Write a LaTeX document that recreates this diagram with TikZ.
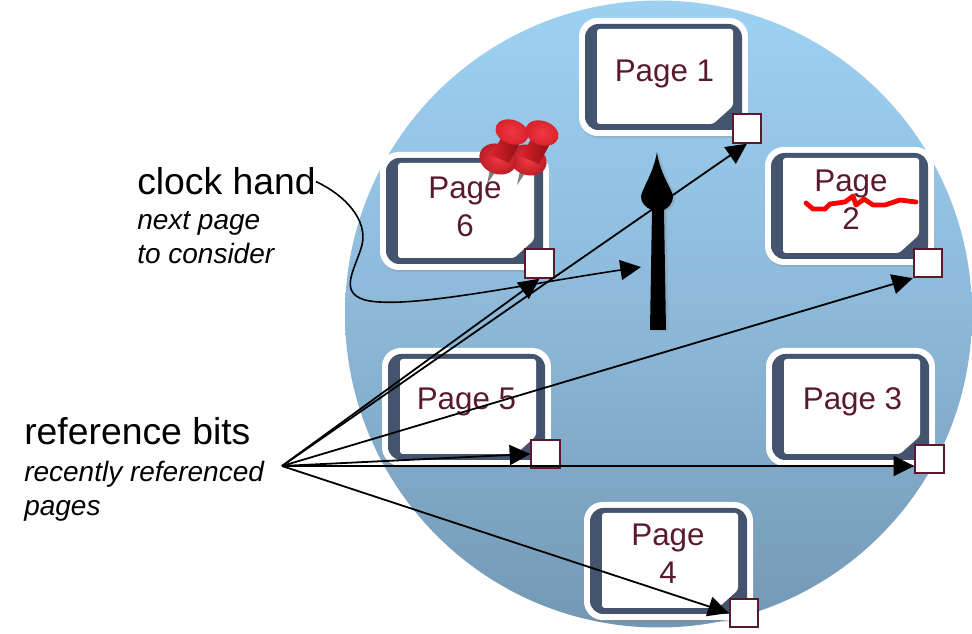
\documentclass[tikz,border=0pt]{standalone}
\usepackage{fontspec}
\setmainfont{Liberation Sans}
\usetikzlibrary{positioning}
\usetikzlibrary{arrows.meta}
\usetikzlibrary{shadows}
\definecolor{pagetext}{HTML}{5A1A2C}
\definecolor{carddark}{HTML}{44546F}
\definecolor{sky}{HTML}{9DD1F2}
\definecolor{skymid}{HTML}{8DB9D9}
\definecolor{skylow}{HTML}{7398B4}
\definecolor{pinred}{HTML}{D8202A}
\definecolor{pinlight}{HTML}{F03840}
\definecolor{pindark}{HTML}{8E1015}
\tikzset{
 pagelabel/.style={text=pagetext,font=\fontsize{23.5}{28.5}\selectfont,align=center,inner sep=0pt},
 bitbox/.style={draw=pagetext,fill=white,line width=1.3pt,minimum size=21.5pt,inner sep=0pt},
 biglabel/.style={anchor=base west,inner sep=0pt,font=\fontsize{28}{33}\selectfont},
 smalllabel/.style={anchor=base west,inner sep=0pt,font=\itshape\fontsize{21}{25}\selectfont},
 refarrow/.style={line width=1.35pt,-{Triangle[length=15.5pt,width=15pt]}},
}
\begin{document}
\begin{tikzpicture}[x=0.75pt,y=-0.75pt]
 \useasboundingbox (0,0) rectangle (972,634);
 \shade[top color=sky,bottom color=skylow,middle color=skymid] (658.5,314) circle [radius=313.5];
 % cards, outer corner given
 \foreach \cx/\cy in {579/18,380/152,765/147,382/348,766/348,584/502}{
  \begin{scope}[shift={(\cx,\cy)}]
   \fill[white,rounded corners=14pt,drop shadow={shadow xshift=0.5pt,shadow yshift=-1.5pt,opacity=0.25}] (0,0) rectangle (169,118);
   \fill[carddark,rounded corners=10pt] (6,6) rectangle (163,112);
   \fill[white,rounded corners=2pt] (18,11)--(154,11)--(154,88)--(134,106)--(18,106)--cycle;
  \end{scope}
 }
 \node[pagelabel] (page1) at (664.5,74) {Page 1};
 \node[pagelabel] (page2) at (851,199.5) {Page\\2};
 \node[pagelabel] (page3) at (852.5,402) {Page 3};
 \node[pagelabel] (page4) at (668,553.5) {Page\\4};
 \node[pagelabel] (page5) at (466.5,402) {Page 5};
 \node[pagelabel] (page6) at (465,207) {Page\\6};
 % scribble on page 2
 \draw[red,line width=3.6pt,line join=round,line cap=round] (806,203)--(813,209)--(825,209)--(830,204)--(845,202)--(853,196)--(856,205)--(864,199)--(873,205)--(885,205)--(900,200)--(916,202);
 % pins on page 6
 \foreach \px/\py in {30/1,0/0}{
  \begin{scope}[shift={(\px,\py)}]
   \fill[gray] (491,165)--(498,168)--(487,184)--cycle;
   \shade[inner color=pinlight,outer color=pinred!85!black,rotate around={-20:(498,159)}] (498,159) circle [x radius=19,y radius=15];
   \shade[left color=pinred,right color=pindark] (491,155)--(503,135)--(521,141)--(509,163)--cycle;
   \shade[inner color=pinlight,outer color=pinred,rotate around={-20:(512,132)}] (512,132) circle [x radius=17,y radius=12];
  \end{scope}
 }
 % the hand
 \fill[drop shadow={shadow xshift=2pt,shadow yshift=-1pt,opacity=0.25}] (650,330)--(652,210) .. controls (646,208) and (641,203) .. (641,197) .. controls (641,190) and (653,175) .. (657,152) .. controls (660,175) and (673,190) .. (673,197) .. controls (673,203) and (668,208) .. (664,210)--(666,330)--cycle;
 \node[bitbox] (bit1) at (747,128.5) {};
 \node[bitbox] (bit2) at (928,263) {};
 \node[bitbox] (bit3) at (929.5,459) {};
 \node[bitbox] (bit4) at (744,613) {};
 \node[bitbox] (bit5) at (545.5,454) {};
 \node[bitbox] (bit6) at (539.5,263.5) {};
 \node[biglabel] (handlabel) at (137,195) {clock hand};
 \node[smalllabel] (handnote) at (137,230) {next page};
 \node[smalllabel] (handnote2) at (137,264) {to consider};
 \node[biglabel] (reflabel) at (24,445) {reference bits};
 \node[smalllabel] (refnote) at (24,482) {recently referenced};
 \node[smalllabel] (refnote2) at (24,516) {pages};
 \coordinate (reffrom) at (282,466);
 \coordinate (handto) at (641,267);
 \draw[line width=1.2pt,-{Triangle[length=15.5pt,width=15pt]}] (handlabel.east) .. controls (345,195) and (368,220) .. (362,245) .. controls (355,270) and (338,292) .. (365,300) .. controls (405,310) and (520,285) .. (handto);
 \draw[refarrow] (reffrom)--(bit1.south);
 \draw[refarrow] (reffrom)--(bit2.south west);
 \draw[refarrow] (reffrom)--(bit3.west |- reffrom);
 \draw[refarrow] (reffrom)--(bit4.west);
 \draw[refarrow] (reffrom)--(bit5.west);
 \draw[refarrow] (reffrom)--(bit6.south);
\end{tikzpicture}
\end{document}
